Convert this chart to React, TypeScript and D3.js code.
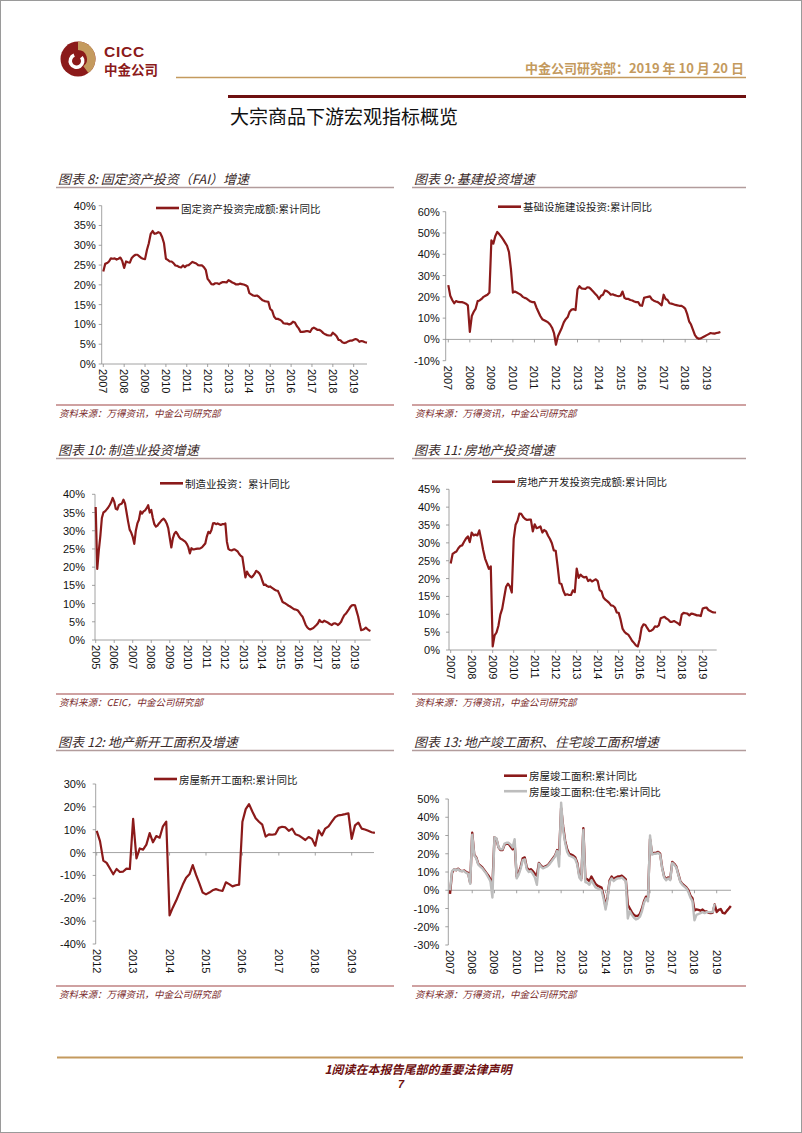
import React from 'react';
import * as d3 from 'd3';

// ---- data (cumulative yoy %, monthly) ----
// 11 points per year = Feb..Dec (China releases Jan+Feb together)
const faiValues = [
  23.4, 25.3, 25.5, 25.9, 26.7, 26.6, 26.7, 26.4, 26.6, 26.9, 26.0,
  24.3, 25.9, 25.7, 25.6, 26.8, 27.3, 27.6, 27.6, 27.2, 26.8, 26.6,
  26.5, 28.8, 30.5, 32.9, 33.6, 32.9, 33.0, 33.3, 33.1, 32.1, 30.5,
  26.6, 26.3, 25.9, 25.9, 25.5, 24.9, 24.8, 24.5, 24.4, 24.9, 24.5,
  24.9, 25.0, 25.4, 25.8, 25.6, 25.4, 25.0, 24.9, 24.9, 24.5, 23.8,
  21.5, 20.9, 20.2, 20.1, 20.4, 20.4, 20.2, 20.5, 20.7, 20.7, 20.6,
  21.2, 20.9, 20.6, 20.4, 20.1, 20.1, 20.3, 20.2, 20.1, 19.9, 19.6,
  17.9, 17.6, 17.3, 17.2, 17.3, 17.0, 16.5, 16.1, 15.9, 15.8, 15.7,
  13.9, 13.5, 12.0, 11.4, 11.4, 11.2, 10.9, 10.3, 10.2, 10.2, 10.0,
  10.2, 10.7, 10.5, 9.6, 9.0, 8.1, 8.1, 8.2, 8.3, 8.3, 8.1,
  8.9, 9.2, 8.9, 8.6, 8.6, 8.3, 7.8, 7.5, 7.3, 7.2, 7.2,
  7.9, 7.5, 7.0, 6.1, 6.0, 5.5, 5.3, 5.4, 5.7, 5.9, 5.9,
  6.1, 6.3, 6.1, 5.6, 5.8, 5.7, 5.5, 5.4,
];

const infraValues = [
  25.5, 20.5, 18.5, 17.0, 18.0, 17.6, 17.5, 17.5, 17.2, 16.8, 16.0,
  3.5, 11.0, 13.0, 14.5, 18.0, 18.3, 19.0, 20.0, 20.5, 21.0, 22.0,
  46.5, 45.0, 48.5, 50.5, 49.5, 48.3, 47.0, 45.5, 44.0, 41.0, 33.0,
  22.0, 22.5, 22.0, 21.5, 21.0, 20.0, 19.5, 19.2, 18.5, 17.8, 17.5,
  17.5, 15.0, 13.0, 11.0, 9.5, 9.0, 8.5, 8.0, 7.0, 5.5, 3.0,
  -2.5, 1.5, 3.5, 5.5, 8.0, 9.5, 10.5, 13.0, 14.0, 14.2, 13.8,
  23.5, 25.0, 24.0, 23.8, 23.7, 24.5, 24.3, 23.5, 22.5, 21.5, 20.5,
  19.0, 20.5, 21.0, 23.0, 22.7, 22.0, 21.0, 21.2, 20.8, 20.5, 20.3,
  20.5, 22.5, 19.5, 19.0, 19.0, 18.5, 18.3, 17.8, 17.5, 17.5, 16.0,
  15.8, 19.5, 19.8, 20.0, 20.2, 18.8, 18.2, 17.8, 17.5, 16.8, 16.0,
  21.0, 19.0, 18.5, 17.0, 16.8, 16.5, 16.2, 16.0, 15.8, 15.8, 15.3,
  14.5, 12.0, 8.5, 7.0, 4.5, 2.0, 0.8, 0.3, 0.5, 1.0, 1.5,
  2.0, 2.5, 3.0, 2.8, 2.7, 3.0, 3.2, 3.5,
];

// 12 points per year (CEIC)
const mfgValues = [
  36.5, 19.5, 24.5, 28.5, 33.5, 35.0, 35.3, 35.8, 36.3, 37.0, 37.8, 39.0,
  38.0, 36.0, 35.8, 37.0, 37.3, 37.5, 38.5, 37.5, 35.0, 32.5, 30.3, 29.5,
  28.3, 26.4, 30.0, 32.0, 33.0, 35.3, 34.7, 35.3, 35.6, 36.2, 37.0, 35.0,
  35.7, 33.5, 31.8, 31.1, 31.4, 32.0, 32.5, 33.0, 33.3, 32.8, 32.0, 30.7,
  28.0, 25.4, 27.9, 29.2, 29.7, 29.1, 28.3, 27.8, 27.6, 27.3, 27.0, 26.4,
  25.5, 23.8, 25.2, 24.9, 24.9, 25.0, 25.1, 25.1, 25.2, 25.5, 26.0, 26.5,
  28.4, 29.7, 29.3, 30.2, 32.0, 32.1, 31.8, 32.0, 31.8, 31.6, 31.8, 31.8,
  32.0, 27.0, 25.0, 24.7, 24.6, 24.8, 24.9, 24.6, 24.3, 23.6, 23.1, 22.8,
  20.0, 17.2, 18.8, 18.0, 17.5, 17.2, 17.6, 18.2, 19.0, 18.7, 18.3, 17.5,
  16.2, 15.1, 15.2, 14.8, 14.6, 14.7, 14.4, 14.1, 13.8, 13.6, 13.5, 12.6,
  11.6, 10.5, 10.2, 10.0, 9.7, 9.4, 9.2, 8.9, 8.6, 8.4, 8.3, 8.1,
  7.5, 6.9, 6.4, 5.3, 4.2, 3.5, 3.1, 2.9, 3.1, 3.3, 3.7, 4.1,
  4.6, 5.5, 5.0, 4.9, 5.3, 5.1, 4.9, 4.6, 4.3, 4.1, 4.5, 4.6,
  4.4, 4.1, 4.5, 5.0, 6.0, 6.8, 7.2, 7.8, 8.4, 9.1, 9.5, 9.6,
  9.5, 8.0, 6.5, 4.5, 2.7, 2.8, 3.0, 3.4, 3.0, 2.7, 2.5,
];

const realEstateValues = [
  24.2, 26.9, 27.3, 27.6, 28.5, 29.1, 29.3, 30.3, 31.2, 31.8, 30.2,
  32.9, 32.1, 32.3, 32.1, 33.5, 30.9, 28.0, 25.6, 24.2, 22.7, 23.4,
  1.0, 4.1, 4.9, 6.8, 9.9, 11.6, 14.7, 17.7, 18.6, 17.8, 16.1,
  31.1, 35.1, 36.2, 38.2, 38.1, 37.2, 36.7, 36.4, 36.5, 36.5, 33.2,
  35.2, 34.1, 34.3, 34.6, 32.9, 33.6, 33.2, 32.0, 31.1, 29.9, 27.9,
  27.8, 23.5, 18.7, 18.5, 16.6, 15.4, 15.6, 15.4, 15.4, 16.7, 16.2,
  22.8, 20.2, 21.1, 20.6, 20.3, 20.5, 19.3, 19.7, 19.2, 19.5, 19.8,
  19.3, 16.8, 16.4, 14.7, 14.1, 13.7, 13.2, 12.5, 12.4, 11.9, 10.5,
  10.4, 8.5, 6.0, 5.1, 4.6, 4.3, 3.5, 2.6, 2.0, 1.3, 1.0,
  3.0, 6.2, 7.2, 7.0, 6.1, 5.3, 5.4, 5.8, 6.6, 6.5, 6.9,
  8.9, 9.1, 9.3, 8.8, 8.5, 7.9, 7.9, 8.1, 7.8, 7.5, 7.0,
  9.9, 10.4, 10.3, 10.2, 9.7, 10.2, 10.1, 9.9, 9.7, 9.7, 9.5,
  11.6, 11.8, 11.9, 11.2, 10.9, 10.6, 10.5, 10.5,
];

const newStartValues = [
  9.5, 5.0, -3.5, -4.5, -7.0, -9.5, -7.2, -8.5, -8.3, -7.0, -7.2,
  14.8, -2.5, 1.8, 1.3, 3.5, 8.5, 4.5, 7.2, 6.5, 11.5, 13.5,
  -27.5, -24.0, -21.0, -17.5, -14.0, -11.0, -9.5, -5.5, -9.8, -13.5, -17.5,
  -18.3, -17.5, -16.5, -16.0, -16.5, -16.8, -13.0, -13.8, -14.8, -14.3, -14.0,
  13.5, 19.0, 21.2, 18.0, 15.0, 13.5, 12.2, 7.0, 8.0, 7.8, 8.1,
  10.8, 11.3, 11.0, 9.5, 10.5, 8.0, 7.5, 6.5, 5.5, 6.8, 6.0,
  3.0, 9.7, 7.5, 10.5, 11.5, 13.5, 15.5, 16.3, 16.5, 16.8, 17.2,
  6.0, 11.9, 13.1, 10.5, 10.1, 9.5, 8.9, 8.6,
];

const completionValues = [
  -2.0, 9.5, 11.5, 11.0, 11.8, 10.8, 10.5, 10.8, 10.0, 9.5, 4.0,
  31.5, 19.5, 18.0, 14.5, 13.5, 12.5, 11.0, 9.5, 8.0, 6.0, 2.5,
  29.0, 28.0, 23.5, 22.0, 22.0, 25.0, 25.5, 25.5, 24.0, 22.5, 25.0,
  7.5, 9.5, 13.0, 17.5, 18.0, 12.5, 11.0, 11.5, 10.5, 9.0, 8.0,
  15.0, 13.5, 12.5, 13.0, 13.5, 14.5, 16.0, 17.5, 19.0, 22.0, 19.5,
  45.0, 35.0, 27.0, 22.5, 20.0, 19.5, 19.0, 18.0, 15.0, 8.0, 6.5,
  34.0, 6.5, 6.0, 5.0, 7.5, 5.5, 3.5, 2.5, 2.0, 1.5, -3.0,
  -9.0, -3.5, 5.5, 7.5, 6.0, 7.0, 7.5, 7.5, 8.0, 7.0, 6.0,
  -8.0, -10.0, -12.0, -13.5, -14.2, -14.0, -13.0, -10.0, -6.0, -3.5, -4.0,
  28.0, 20.0, 20.5, 20.5, 21.0, 20.0, 12.5, 7.5, 6.0, 7.0, 6.1,
  15.5, 14.5, 13.0, 9.0, 5.0, 3.5, 2.5, 1.5, 0.0, -3.0, -4.4,
  -11.1, -10.5, -10.8, -11.2, -10.6, -11.6, -11.6, -12.3, -12.5, -12.3, -7.8,
  -11.9, -10.8, -10.3, -12.4, -12.7, -11.3, -10.0, -8.6,
];

const resCompletionValues = [
  0.0, 10.5, 11.5, 11.0, 11.5, 10.5, 10.5, 10.5, 9.5, 9.0, 3.5,
  30.5, 19.0, 17.5, 14.0, 13.0, 12.0, 10.5, 9.0, 7.0, 5.0, -4.0,
  29.0, 28.5, 23.5, 22.5, 22.5, 25.5, 26.0, 26.0, 25.0, 23.5, 28.0,
  6.5, 8.5, 12.0, 16.5, 17.0, 11.5, 10.0, 10.5, 9.0, 7.0, 3.0,
  14.5, 13.0, 12.0, 12.5, 13.0, 14.0, 15.5, 17.0, 18.5, 21.5, 13.0,
  48.0, 33.0, 26.0, 21.0, 19.0, 18.5, 18.0, 17.0, 14.0, 7.0, 5.5,
  33.0, 4.5, 4.0, 3.0, 5.5, 3.5, 1.5, 1.0, 0.5, 0.0, -4.5,
  -10.5, -4.5, 4.5, 6.5, 5.0, 6.0, 6.5, 6.5, 7.0, 6.0, 5.0,
  -15.5, -11.5, -13.5, -15.0, -16.0, -15.5, -14.5, -11.5, -7.0, -4.5, -6.0,
  30.0, 19.5, 20.0, 20.0, 20.5, 19.5, 12.0, 7.0, 5.5, 6.5, 5.5,
  15.0, 14.0, 12.5, 8.5, 4.5, 3.0, 2.0, 1.0, -1.0, -4.0, -6.0,
  -16.5, -13.5, -13.0, -12.5, -12.0, -12.5, -12.0, -12.0, -12.0, -12.0, -7.5,
];

// tick labels
const years0719 = ['2007', '2008', '2009', '2010', '2011', '2012', '2013', '2014', '2015', '2016', '2017', '2018', '2019'];
const years0519 = ['2005', '2006', ...years0719];
const years1219 = ['2012', '2013', '2014', '2015', '2016', '2017', '2018', '2019'];

const RED = '#8B1A1A';
const GRAY = '#BDBDBD';
const GOLD = '#C49A5E';
const AXIS = '#8c8c8c';
const CJK = '"Noto Sans CJK SC", "Noto Sans", sans-serif';
const LAT = '"Liberation Sans", Arial, sans-serif';

interface Series { values: number[]; start: number; perYear: number; color: string; width: number; label: string }
interface ChartCfg {
  axisX: number; rightX: number; top: number; bottom: number;
  yDomain: [number, number]; yStep: number; labelGap: number;
  years: string[]; yearPx: [number, number];
  series: Series[]; legendX: number; legendY: number;
}

const toPoints = (s: Series) =>
  s.values.map((v, i) => ({ t: s.start + Math.floor(i / s.perYear) + (i % s.perYear) / s.perYear, v }));

const LineChart: React.FC<{ cfg: ChartCfg }> = ({ cfg }) => {
  const y0 = +cfg.years[0];
  const y1 = +cfg.years[cfg.years.length - 1];
  const x = d3.scaleLinear().domain([y0, y1]).range(cfg.yearPx);
  const y = d3.scaleLinear().domain(cfg.yDomain).range([cfg.bottom, cfg.top]);
  const yTicks = d3.range(cfg.yDomain[0], cfg.yDomain[1] + 0.001, cfg.yStep);
  const zeroY = y(Math.max(0, cfg.yDomain[0]));
  const line = d3.line<{ t: number; v: number }>().x(d => x(d.t)).y(d => y(d.v));

  return (
    <g>
      {/* y axis */}
      <line x1={cfg.axisX} x2={cfg.axisX} y1={cfg.top} y2={cfg.bottom} stroke={AXIS} strokeWidth={0.8} />
      {yTicks.map(t => (
        <g key={t}>
          <line x1={cfg.axisX - 3} x2={cfg.axisX} y1={y(t)} y2={y(t)} stroke={AXIS} strokeWidth={0.8} />
          <text x={cfg.axisX - cfg.labelGap} y={y(t)} textAnchor="end" dominantBaseline="central"
            fontFamily={LAT} fontSize={11} fill="#111">{`${t}%`}</text>
        </g>
      ))}
      {/* x axis */}
      <line x1={cfg.axisX} x2={cfg.rightX} y1={zeroY} y2={zeroY} stroke={AXIS} strokeWidth={0.8} />
      {cfg.years.map(yr => (
        <g key={yr}>
          <line x1={x(+yr)} x2={x(+yr)} y1={zeroY} y2={zeroY + 3} stroke={AXIS} strokeWidth={0.8} />
          <text transform={`translate(${x(+yr)},${cfg.bottom + 5}) rotate(90)`} textAnchor="start"
            dominantBaseline="central" fontFamily={LAT} fontSize={11} fill="#111">{yr}</text>
        </g>
      ))}
      {cfg.series.map((s, i) => (
        <path key={i} d={line(toPoints(s)) || ''} fill="none" stroke={s.color} strokeWidth={s.width}
          strokeLinejoin="round" />
      ))}
      {cfg.series.map((s, i) => (
        <g key={'lg' + i}>
          <line x1={cfg.legendX} x2={cfg.legendX + 23} y1={cfg.legendY + i * 15.5} y2={cfg.legendY + i * 15.5}
            stroke={s.color} strokeWidth={2.6} />
          <text x={cfg.legendX + 25} y={cfg.legendY + i * 15.5} dominantBaseline="central"
            fontFamily={CJK} fontSize={10.5} fill="#222">{s.label}</text>
        </g>
      ))}
    </g>
  );
};

const Panel: React.FC<{ x1: number; x2: number; titleY: number; sourceY: number; title: string; source: string }> =
  ({ x1, x2, titleY, sourceY, title, source }) => (
    <g>
      <text x={x1 + 2} y={titleY} dominantBaseline="central" fontFamily={CJK} fontStyle="italic"
        fontSize={13} fill="#3a2a2a">{title}</text>
      <line x1={x1} x2={x2} y1={titleY + 9.5} y2={titleY + 9.5} stroke="#b29c9c" strokeWidth={1.5} />
      <line x1={x1} x2={x2} y1={sourceY} y2={sourceY} stroke="#a04545" strokeWidth={1.2} />
      <text x={x1 + 3} y={sourceY + 7.5} dominantBaseline="central" fontFamily={CJK} fontStyle="italic"
        fontSize={9.5} fill="#7a2a2a">{source}</text>
    </g>
  );

const SRC = '资料来源：万得资讯，中金公司研究部';

const charts: { panel: { x1: number; x2: number; titleY: number; sourceY: number; title: string; source: string }; cfg: ChartCfg }[] = [
  {
    panel: { x1: 56, x2: 394, titleY: 178, sourceY: 405, title: '图表 8:  固定资产投资（FAI）增速', source: SRC },
    cfg: {
      axisX: 101.7, rightX: 367, top: 205.7, bottom: 364, yDomain: [0, 40], yStep: 5, labelGap: 6,
      years: years0719, yearPx: [103.3, 353.7], legendX: 156, legendY: 208,
      series: [{ values: faiValues, start: 2007, perYear: 11, color: RED, width: 2.2, label: '固定资产投资完成额:累计同比' }],
    },
  },
  {
    panel: { x1: 412, x2: 746, titleY: 178, sourceY: 405, title: '图表 9:  基建投资增速', source: SRC },
    cfg: {
      axisX: 445.7, rightX: 720, top: 211.7, bottom: 360.7, yDomain: [-10, 60], yStep: 10, labelGap: 6,
      years: years0719, yearPx: [448.3, 706.7], legendX: 498, legendY: 206.7,
      series: [{ values: infraValues, start: 2007, perYear: 11, color: RED, width: 2.2, label: '基础设施建设投资:累计同比' }],
    },
  },
  {
    panel: { x1: 56, x2: 394, titleY: 449, sourceY: 694, title: '图表 10:  制造业投资增速', source: '资料来源：CEIC，中金公司研究部' },
    cfg: {
      axisX: 95, rightX: 370.7, top: 494.3, bottom: 640, yDomain: [0, 40], yStep: 5, labelGap: 10,
      years: years0519, yearPx: [95.7, 355], legendX: 160, legendY: 483.3,
      series: [{ values: mfgValues, start: 2005, perYear: 12, color: RED, width: 2.2, label: '制造业投资：累计同比' }],
    },
  },
  {
    panel: { x1: 412, x2: 746, titleY: 449, sourceY: 694, title: '图表 11:  房地产投资增速', source: SRC },
    cfg: {
      axisX: 449, rightX: 716.7, top: 489.3, bottom: 650, yDomain: [0, 45], yStep: 5, labelGap: 9,
      years: years0719, yearPx: [450.7, 702.7], legendX: 492, legendY: 481.7,
      series: [{ values: realEstateValues, start: 2007, perYear: 11, color: RED, width: 2.2, label: '房地产开发投资完成额:累计同比' }],
    },
  },
  {
    panel: { x1: 56, x2: 394, titleY: 741, sourceY: 986, title: '图表 12:  地产新开工面积及增速', source: SRC },
    cfg: {
      axisX: 95.7, rightX: 374, top: 784, bottom: 944, yDomain: [-40, 30], yStep: 10, labelGap: 10,
      years: years1219, yearPx: [96.7, 351.7], legendX: 154, legendY: 779,
      series: [{ values: newStartValues, start: 2012, perYear: 11, color: RED, width: 2.2, label: '房屋新开工面积:累计同比' }],
    },
  },
  {
    panel: { x1: 412, x2: 746, titleY: 741, sourceY: 986, title: '图表 13:  地产竣工面积、住宅竣工面积增速', source: SRC },
    cfg: {
      axisX: 448.3, rightX: 731, top: 799, bottom: 945, yDomain: [-30, 50], yStep: 10, labelGap: 9,
      years: years0719, yearPx: [450, 716.7], legendX: 504, legendY: 775.7,
      series: [
        { values: completionValues, start: 2007, perYear: 11, color: RED, width: 2.4, label: '房屋竣工面积:累计同比' },
        { values: resCompletionValues, start: 2007, perYear: 11, color: GRAY, width: 2.4, label: '房屋竣工面积:住宅:累计同比' },
      ],
    },
  },
];

const Logo: React.FC = () => {
  const cx = 78, cy = 59;
  const gold = d3.arc()({ innerRadius: 9, outerRadius: 17.5, startAngle: 0, endAngle: 2.5 } as any) || '';
  const swirl = d3.arc()({ innerRadius: 4.5, outerRadius: 8, startAngle: 0.9, endAngle: 5.9 } as any) || '';
  return (
    <g>
      <circle cx={cx} cy={cy} r={17.5} fill={RED} />
      <path d={gold} transform={`translate(${cx},${cy})`} fill={GOLD} />
      <path d={swirl} transform={`translate(${cx - 1.5},${cy + 2})`} fill="#fff" />
      <text x={104} y={57} fontFamily={LAT} fontWeight="bold" fontSize={15.5} letterSpacing={0.8} fill={RED}>CICC</text>
      <text x={104} y={75} fontFamily={CJK} fontWeight="bold" fontSize={13.5} fill={RED}>中金公司</text>
    </g>
  );
};

export default function App() {
  return (
    <div style={{ position: 'absolute', left: 0, top: 0 }}>
      <svg width={802} height={1133} viewBox="0 0 802 1133" style={{ display: 'block', background: '#fff' }}>
        <rect x={0.5} y={0.5} width={801} height={1132} fill="#fff" stroke="#9a9a9a" />
        <Logo />
        <line x1={176} x2={746} y1={77.5} y2={77.5} stroke={GOLD} strokeWidth={1.6} />
        <text x={744} y={67} textAnchor="end" dominantBaseline="central" fontFamily={CJK} fontWeight="bold"
          fontSize={13} fill={GOLD}>中金公司研究部：2019 年 10 月 20 日</text>
        <line x1={228} x2={746} y1={96.5} y2={96.5} stroke="#6e1010" strokeWidth={3} />
        <text x={230} y={115} dominantBaseline="central" fontFamily={CJK} fontSize={19} fill="#111">大宗商品下游宏观指标概览</text>

        {charts.map((c, i) => (
          <g key={i}>
            <Panel {...c.panel} />
            <LineChart cfg={c.cfg} />
          </g>
        ))}

        <line x1={57} x2={743} y1={1057.5} y2={1057.5} stroke={GOLD} strokeWidth={2} />
        <text x={418} y={1068} textAnchor="middle" dominantBaseline="central" fontFamily={CJK} fontStyle="italic"
          fontWeight="bold" fontSize={12} fill="#6e1010">1阅读在本报告尾部的重要法律声明</text>
        <text x={401} y={1084} textAnchor="middle" dominantBaseline="central" fontFamily={LAT} fontStyle="italic"
          fontWeight="bold" fontSize={11} fill="#6e1010">7</text>
      </svg>
    </div>
  );
}
